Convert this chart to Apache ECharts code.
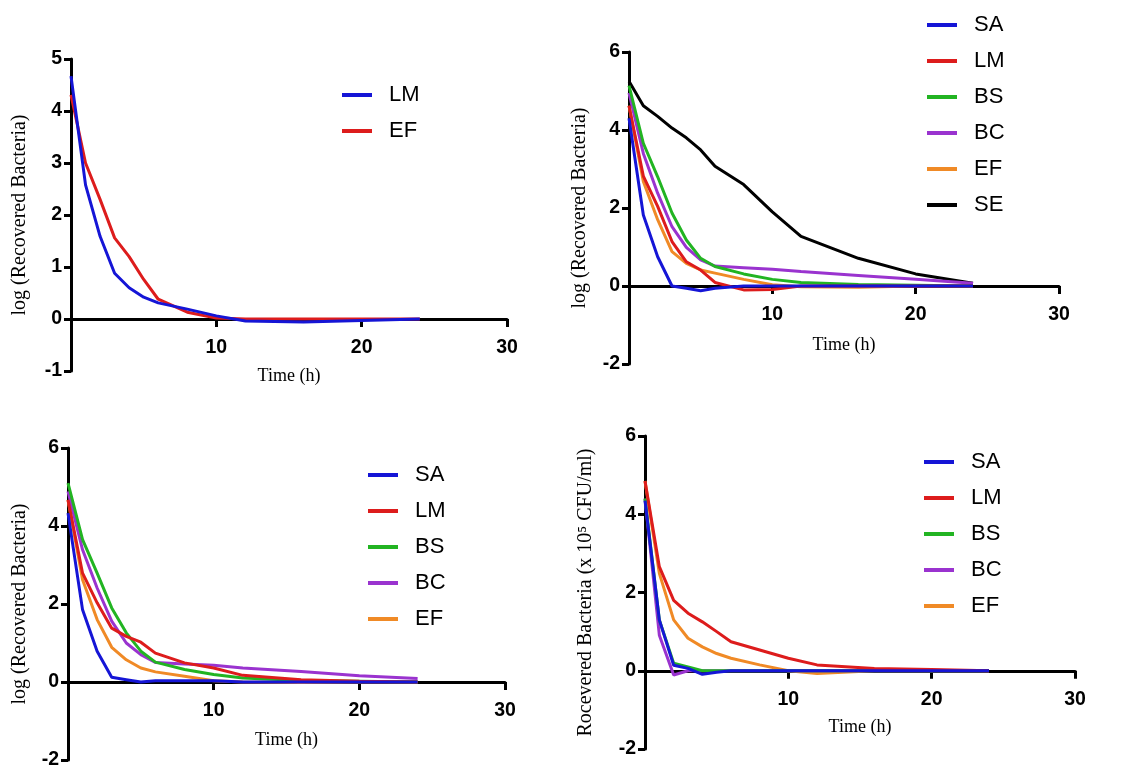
<!DOCTYPE html>
<html>
<head>
<meta charset="utf-8">
<script src="https://cdn.jsdelivr.net/npm/echarts@6/dist/echarts.min.js"></script>
<style>
html,body{margin:0;padding:0;background:#fff;}
#chart{width:1141px;height:774px;}
</style>
</head>
<body>
<div id="chart"></div>
<script>
// Time points (h)
const hours = [0, 1, 2, 3, 4, 5, 6, 8, 10, 12, 16, 20, 24];

// Panel A (top-left)
const pA_LM = [4.67, 2.58, 1.59, 0.88, 0.60, 0.42, 0.31, 0.19, 0.06, -0.04, -0.06, -0.03, 0];
const pA_EF = [4.31, 3.00, 2.30, 1.56, 1.20, 0.76, 0.38, 0.13, 0.02, 0, 0, 0, 0];

// Panel B (top-right)
const pB_SA = [4.30, 1.82, 0.75, 0.00, -0.06, -0.12, -0.06, 0, 0, 0, 0, 0, 0];
const pB_LM = [4.62, 2.82, 2.04, 1.14, 0.62, 0.41, 0.09, -0.10, -0.09, 0, 0, 0, 0];
const pB_BS = [5.14, 3.66, 2.80, 1.87, 1.18, 0.71, 0.50, 0.31, 0.17, 0.09, 0.04, 0.02, 0];
const pB_BC = [4.95, 3.40, 2.38, 1.52, 0.99, 0.67, 0.51, 0.47, 0.43, 0.37, 0.27, 0.17, 0.07];
const pB_EF = [4.62, 2.68, 1.70, 0.88, 0.58, 0.41, 0.33, 0.17, 0.03, -0.02, -0.03, 0, 0];
const pB_SE = [5.25, 4.62, 4.35, 4.05, 3.80, 3.49, 3.07, 2.60, 1.90, 1.27, 0.71, 0.31, 0.07];

// Panel C (bottom-left)
const pC_SA = [4.33, 1.85, 0.79, 0.12, 0.06, 0.00, 0.03, 0.03, 0.03, 0, 0, 0, 0];
const pC_LM = [4.67, 2.79, 2.03, 1.38, 1.17, 1.02, 0.74, 0.49, 0.36, 0.17, 0.06, 0.02, 0];
const pC_BS = [5.10, 3.65, 2.79, 1.90, 1.26, 0.79, 0.51, 0.32, 0.19, 0.10, 0.04, 0.02, 0];
const pC_BC = [4.89, 3.39, 2.41, 1.56, 1.00, 0.70, 0.50, 0.46, 0.43, 0.36, 0.27, 0.16, 0.09];
const pC_EF = [4.67, 2.62, 1.60, 0.89, 0.57, 0.36, 0.26, 0.15, 0.03, 0, -0.01, 0, 0];

// Panel D (bottom-right)
const pD_SA = [4.35, 1.30, 0.14, 0.06, -0.09, -0.04, 0, 0, 0, 0, 0, 0, 0];
const pD_LM = [4.85, 2.66, 1.80, 1.47, 1.25, 1.00, 0.74, 0.53, 0.32, 0.15, 0.06, 0.03, 0];
const pD_BS = [4.40, 1.30, 0.19, 0.10, 0.00, 0, 0, 0, 0, 0, 0, 0, 0];
const pD_BC = [4.40, 0.91, -0.11, 0.00, 0, 0, 0, 0, 0, 0, 0, 0, 0];
const pD_EF = [4.85, 2.49, 1.30, 0.83, 0.61, 0.44, 0.32, 0.15, 0.00, -0.07, 0, 0, 0];

// Tick settings
const xTicks = {min: 0, max: 30, interval: 10};
const yTicksA = {min: -1, max: 5, interval: 1};
const yTicksB = {min: -2, max: 6, interval: 2};

const xTitle = 'Time (h)';
const yTitleLog = 'log (Recovered Bacteria)';
const yTitleD = 'Rocevered Bacteria (x 10\u2075 CFU/ml)';

const COLORS = {SA: '#1515d6', LM_red: '#dd1c1c', LM_blue: '#1515d6', EF_red: '#dd1c1c', BS: '#22b422', BC: '#9a33cf', EF: '#f08a26', SE: '#000000'};

const chart = echarts.init(document.getElementById('chart'));

const grids = [
  {left: 71, top: 59, width: 436, height: 312},
  {left: 629, top: 52, width: 430, height: 312},
  {left: 68, top: 448, width: 437, height: 312},
  {left: 645, top: 436, width: 430, height: 313}
];

const labelFont = {fontFamily: 'Liberation Sans, Arial, sans-serif', fontWeight: 'bold', fontSize: 19.5, color: '#000'};
const axisLineStyle = {color: '#000', width: 3};

// x axis is raised from the grid bottom to the y = 0 line
function xAxis(i, gap, yt) {
  const g = grids[i];
  const zeroOffset = -g.height * (0 - yt.min) / (yt.max - yt.min);
  return {
    gridIndex: i, type: 'value', min: xTicks.min, max: xTicks.max, interval: xTicks.interval,
    position: 'bottom', offset: zeroOffset,
    axisLine: {onZero: false, lineStyle: axisLineStyle},
    axisTick: {show: true, length: 8, lineStyle: {color: '#000', width: 3}},
    axisLabel: Object.assign({margin: 19, formatter: v => v === 0 ? '' : String(v)}, labelFont),
    splitLine: {show: false},
    name: xTitle, nameLocation: 'middle', nameGap: gap,
    nameTextStyle: {fontFamily: 'Liberation Serif, Times New Roman, serif', fontSize: 18, color: '#000'}
  };
}
function yAxis(i, t, name, gap, fs) {
  return {
    gridIndex: i, type: 'value', min: t.min, max: t.max, interval: t.interval,
    axisLine: {show: true, onZero: false, lineStyle: axisLineStyle},
    axisTick: {show: true, length: 7, lineStyle: {color: '#000', width: 3}},
    axisLabel: Object.assign({margin: 9}, labelFont),
    splitLine: {show: false},
    name: name, nameLocation: 'middle', nameGap: gap,
    nameTextStyle: {fontFamily: 'Liberation Serif, Times New Roman, serif', fontSize: fs, color: '#000'}
  };
}

function pairs(arr) { return hours.map((h, k) => [h, arr[k]]); }
function line(name, arr, color, gi) {
  return {
    type: 'line', name: name, xAxisIndex: gi, yAxisIndex: gi,
    data: pairs(arr), showSymbol: false, symbol: 'none', smooth: false,
    lineStyle: {color: color, width: 3}, itemStyle: {color: color},
    emphasis: {disabled: true}, animation: false, z: 3
  };
}
function legend(left, top, items) {
  return {
    orient: 'vertical', left: left, top: top, itemGap: 12,
    icon: 'rect', itemWidth: 30, itemHeight: 4,
    textStyle: {fontFamily: 'Liberation Sans, Arial, sans-serif', fontSize: 22, color: '#000', lineHeight: 24, padding: [0, 0, 0, 12]},
    data: items.map(([n, c]) => ({name: n, itemStyle: {color: c}, icon: 'rect'})),
    selectedMode: false
  };
}

const option = {
  backgroundColor: '#fff',
  animation: false,
  grid: grids,
  xAxis: [xAxis(0, 48, yTicksA), xAxis(1, 50, yTicksB), xAxis(2, 49, yTicksB), xAxis(3, 48, yTicksB)],
  yAxis: [
    yAxis(0, yTicksA, yTitleLog, 41, 20),
    yAxis(1, yTicksB, yTitleLog, 39, 20),
    yAxis(2, yTicksB, yTitleLog, 38, 20),
    yAxis(3, yTicksB, yTitleD, 49, 20)
  ],
  legend: [
    legend(337, 78, [['LM', COLORS.LM_blue], ['EF', COLORS.EF_red]]),
    legend(922, 8, [['SA', COLORS.SA], ['LM', COLORS.LM_red], ['BS', COLORS.BS], ['BC', COLORS.BC], ['EF', COLORS.EF], ['SE', COLORS.SE]]),
    legend(363, 458, [['SA', COLORS.SA], ['LM', COLORS.LM_red], ['BS', COLORS.BS], ['BC', COLORS.BC], ['EF', COLORS.EF]]),
    legend(919, 445, [['SA', COLORS.SA], ['LM', COLORS.LM_red], ['BS', COLORS.BS], ['BC', COLORS.BC], ['EF', COLORS.EF]])
  ],
  series: [
    line('EF', pA_EF, COLORS.EF_red, 0),
    line('LM', pA_LM, COLORS.LM_blue, 0),

    line('SE', pB_SE, COLORS.SE, 1),
    line('EF', pB_EF, COLORS.EF, 1),
    line('BC', pB_BC, COLORS.BC, 1),
    line('BS', pB_BS, COLORS.BS, 1),
    line('LM', pB_LM, COLORS.LM_red, 1),
    line('SA', pB_SA, COLORS.SA, 1),

    line('EF', pC_EF, COLORS.EF, 2),
    line('BC', pC_BC, COLORS.BC, 2),
    line('BS', pC_BS, COLORS.BS, 2),
    line('LM', pC_LM, COLORS.LM_red, 2),
    line('SA', pC_SA, COLORS.SA, 2),

    line('EF', pD_EF, COLORS.EF, 3),
    line('BC', pD_BC, COLORS.BC, 3),
    line('BS', pD_BS, COLORS.BS, 3),
    line('LM', pD_LM, COLORS.LM_red, 3),
    line('SA', pD_SA, COLORS.SA, 3)
  ]
};
chart.setOption(option);
</script>
</body>
</html>
